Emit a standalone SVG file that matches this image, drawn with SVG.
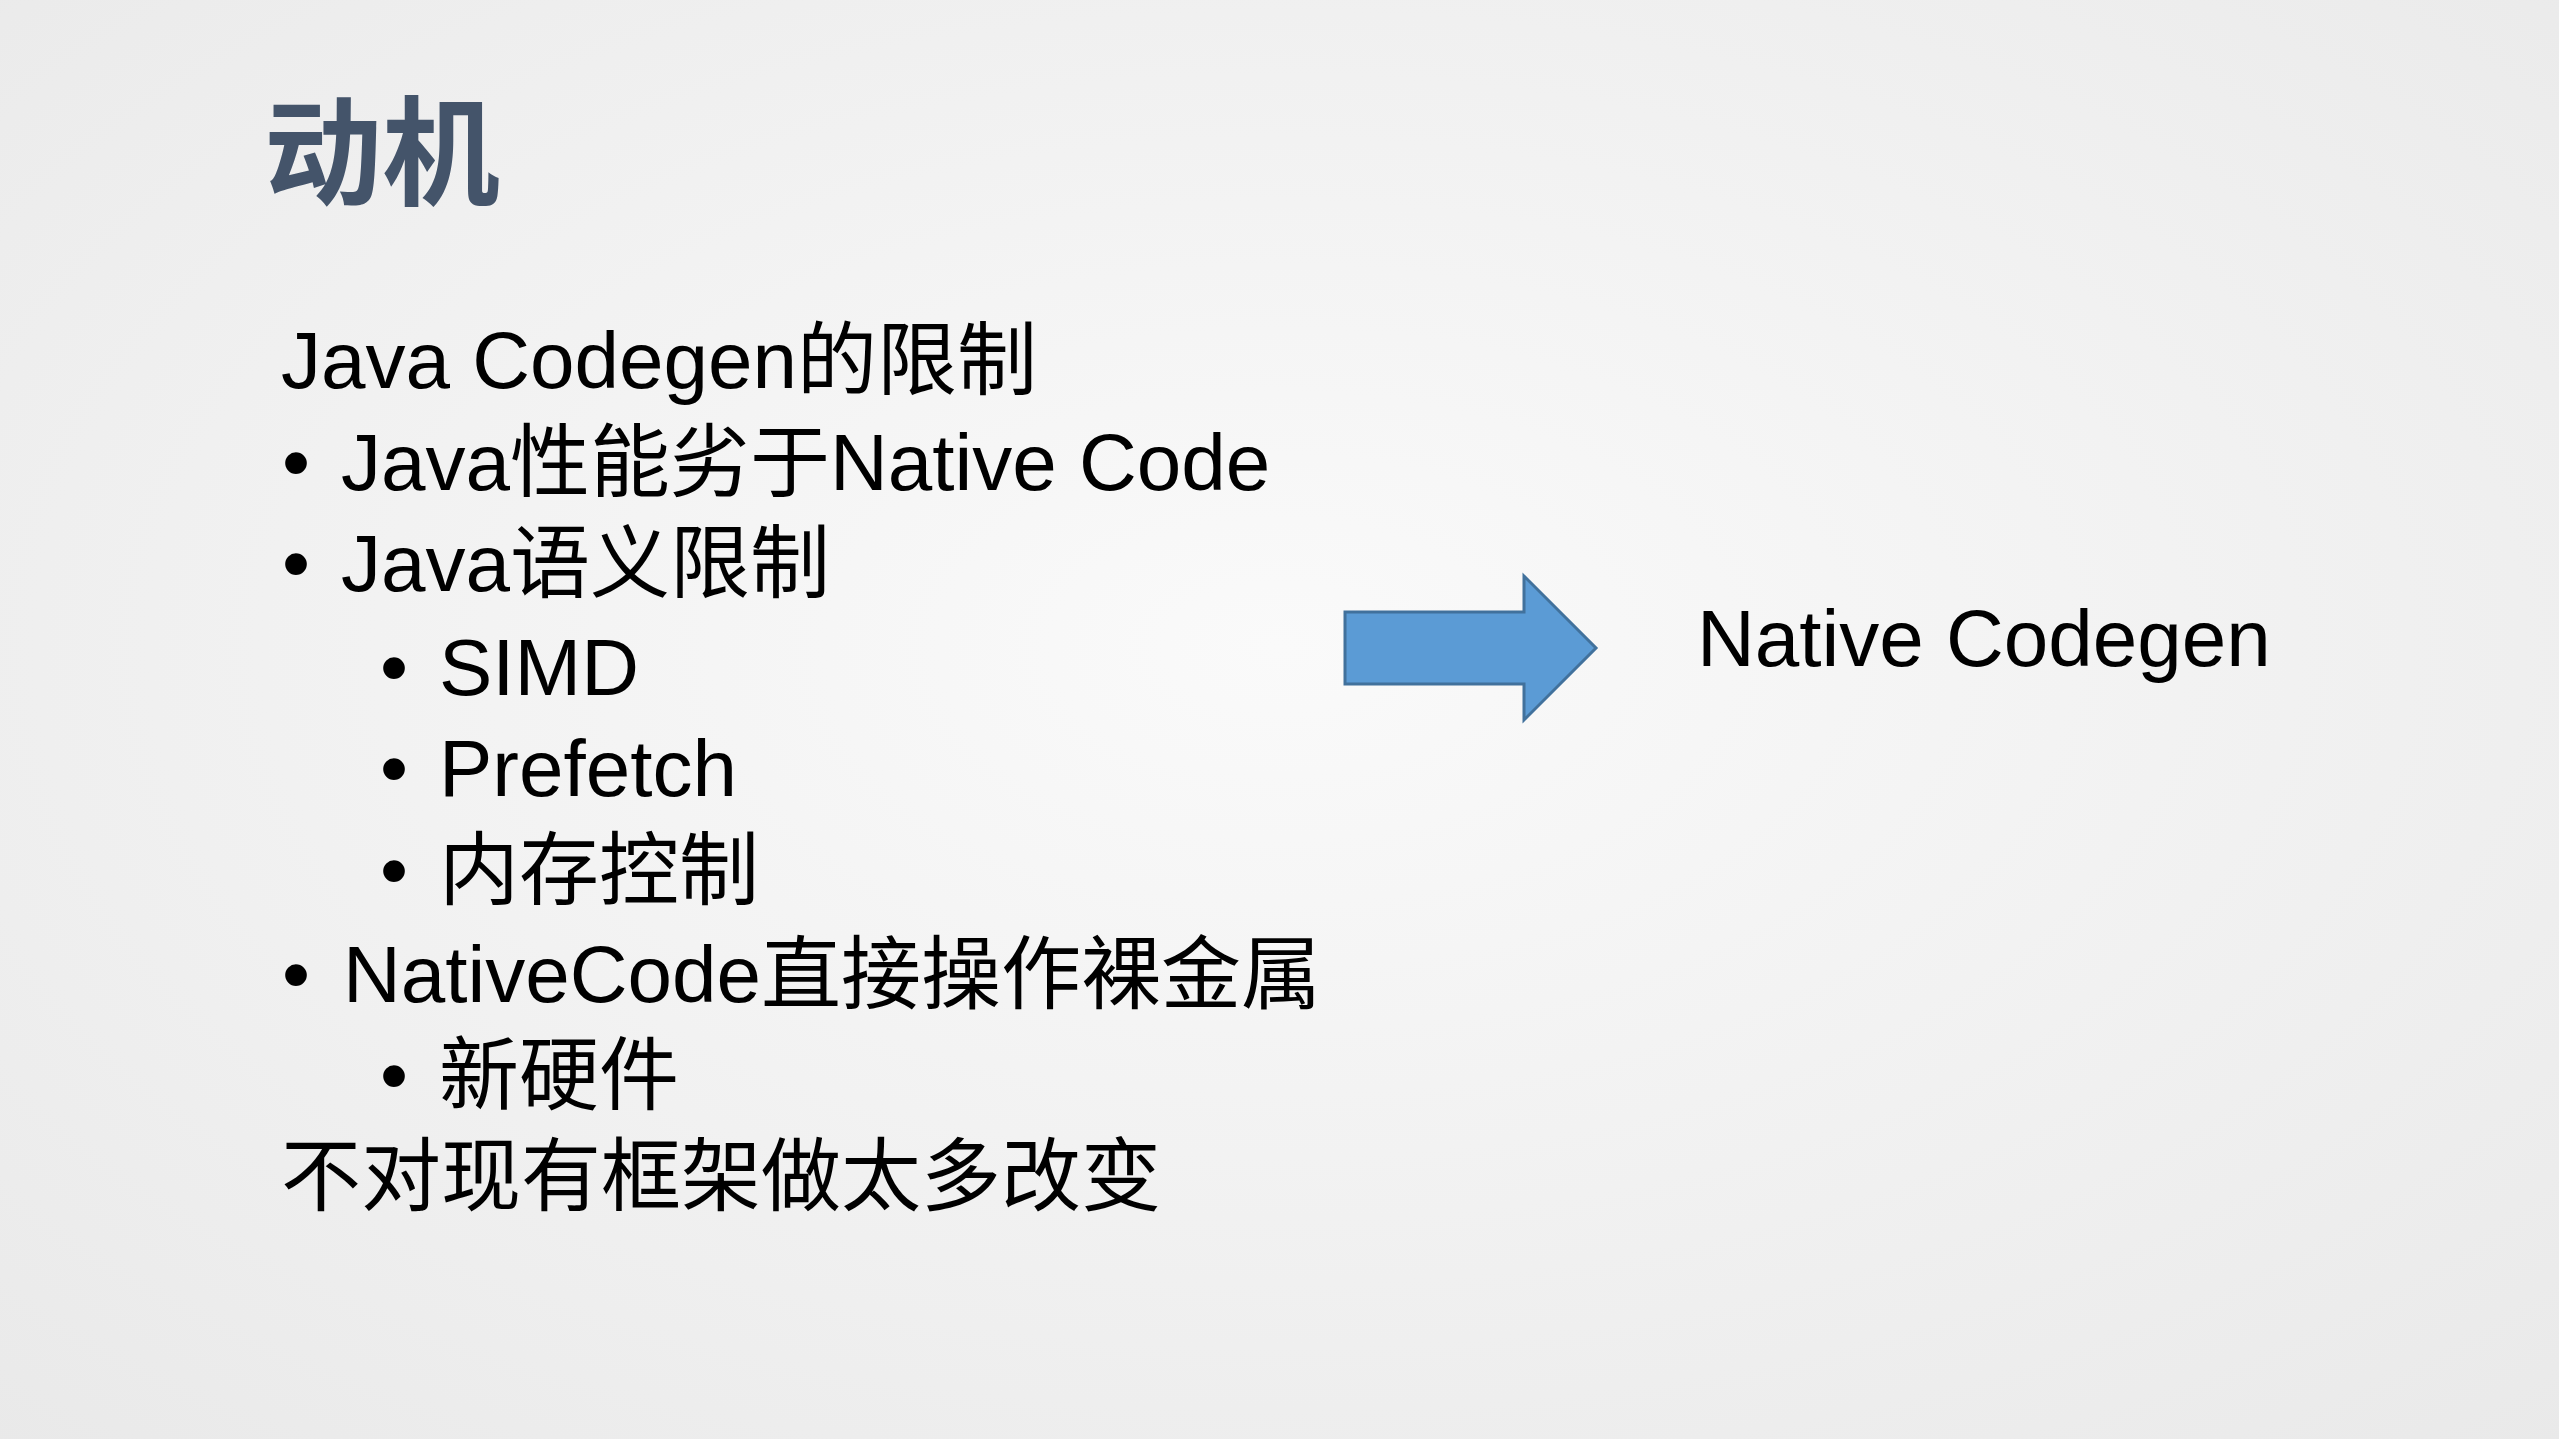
<svg xmlns="http://www.w3.org/2000/svg" width="2559" height="1439" viewBox="0 0 2559 1439">
<defs>
<radialGradient id="bg" cx="0.5" cy="0.45" r="0.75">
<stop offset="0" stop-color="#fafafa"/><stop offset="1" stop-color="#e9e9e9"/>
</radialGradient>
<style>
.t{font-family:"Liberation Sans","Noto Sans CJK SC",sans-serif;font-size:80px;fill:#000}
.h{font-family:"Noto Sans CJK SC",sans-serif;font-size:118px;font-weight:bold;fill:#44546a}
</style>
</defs>
<rect width="2559" height="1439" fill="url(#bg)"/>
<g id="title"><text class="h" x="264" y="196">动机</text></g>
<g id="list">
<text class="t" x="281" y="388">Java Codegen的限制</text>
<text class="t" x="282" y="490">•</text><text class="t" x="341" y="490">Java性能劣于Native Code</text>
<text class="t" x="282" y="591">•</text><text class="t" x="341" y="591">Java语义限制</text>
<text class="t" x="380" y="695">•</text><text class="t" x="439" y="695">SIMD</text>
<text class="t" x="380" y="796">•</text><text class="t" x="439" y="796">Prefetch</text>
<text class="t" x="380" y="898">•</text><text class="t" x="439" y="898">内存控制</text>
<text class="t" x="282" y="1002">•</text><text class="t" x="343" y="1002">NativeCode直接操作裸金属</text>
<text class="t" x="380" y="1103">•</text><text class="t" x="439" y="1103">新硬件</text>
<text class="t" x="281" y="1204">不对现有框架做太多改变</text>
</g>
<g id="connectors">
<polygon points="1345,612 1524,612 1524,576 1596,648 1524,720 1524,684 1345,684" fill="#5b9bd5" stroke="#41719c" stroke-width="3"/>
</g>
<g id="target"><text class="t" x="1697" y="666">Native Codegen</text></g>
</svg>
